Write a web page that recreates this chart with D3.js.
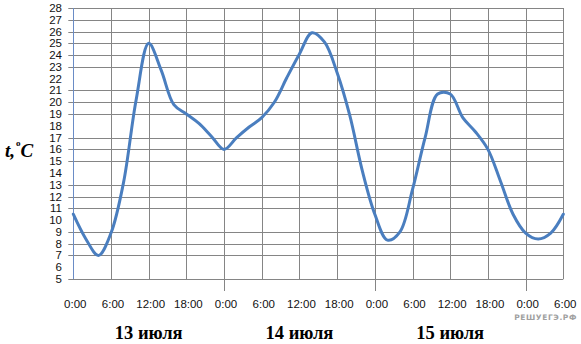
<!DOCTYPE html>
<html>
<head>
<meta charset="utf-8">
<script src="https://cdn.jsdelivr.net/npm/d3@7"></script>
<style>
	body { margin: 0; background: #fff; }
	svg { display: block; }
</style>
</head>
<body>
<div id="chart"></div>
<script>
let hours = d3.range(0, 79, 2);
let temps = [
	10.5, 8.4, 7.0, 8.9, 13.2, 20.2, 25.0, 22.7, 19.8, 19.0, 18.2, 17.1,
	16.0, 17.0, 17.9, 18.7, 20.0, 22.1, 24.1, 25.9, 25.1, 22.5, 18.9, 14.2,
	10.5, 8.3, 9.0, 12.6, 17.0, 20.7, 20.7, 18.7, 17.5, 16.0, 13.3, 10.5,
	8.9, 8.4, 8.9, 10.5
];

let timeTicks = d3.range(0, 79, 6);
let timeLabels = ["0:00", "6:00", "12:00", "18:00", "0:00", "6:00", "12:00", "18:00", "0:00", "6:00", "12:00", "18:00", "0:00", "6:00"];
let dayTicks = [24, 48, 72];
let dayNames = ["13 июля", "14 июля", "15 июля"];
let dayCenters = [12, 36, 60];
let tempTicks = d3.range(5, 29);
// the reference shows no grid line at these values
let skippedGrid = [6, 10, 14, 18, 22];

let chartW = 581, chartH = 344;
let plotLeft = 73.3, plotRight = 563.3, plotTop = 8, plotBottom = 279;

let svg = d3.select("#chart")
	.append("svg")
	.attr("width", chartW)
	.attr("height", chartH);

let x = d3.scaleLinear().domain([0, 78]).range([plotLeft, plotRight]);
let y = d3.scaleLinear().domain([5, 28]).range([plotBottom, plotTop]);

let gridColor = "#858585";

// horizontal grid with small ticks to the left of the axis
svg.append("g")
	.selectAll("line")
	.data(tempTicks.filter((d) => skippedGrid.indexOf(d) < 0))
	.enter().append("line")
	.attr("x1", plotLeft - 5)
	.attr("x2", plotRight)
	.attr("y1", (d) => Math.round(y(d)) + 0.5)
	.attr("y2", (d) => Math.round(y(d)) + 0.5)
	.attr("stroke", gridColor)
	.attr("stroke-width", 1);

// vertical grid
svg.append("g")
	.selectAll("line")
	.data(timeTicks.slice(1))
	.enter().append("line")
	.attr("x1", (d) => Math.round(x(d)) + 0.5)
	.attr("x2", (d) => Math.round(x(d)) + 0.5)
	.attr("y1", plotTop)
	.attr("y2", (d) => dayTicks.indexOf(d) >= 0 ? plotBottom + 12 : plotBottom)
	.attr("stroke", gridColor)
	.attr("stroke-width", 1);

// value axis line
svg.append("line")
	.attr("x1", Math.round(plotLeft) + 0.5)
	.attr("x2", Math.round(plotLeft) + 0.5)
	.attr("y1", plotTop)
	.attr("y2", plotBottom)
	.attr("stroke", "#6a8cc6")
	.attr("stroke-width", 1);

// y labels
svg.append("g")
	.selectAll("text")
	.data(tempTicks)
	.enter().append("text")
	.attr("x", 62)
	.attr("y", (d) => y(d) + 4)
	.attr("text-anchor", "end")
	.attr("font-family", "Liberation Sans, Arial, sans-serif")
	.attr("font-size", "11.5px")
	.attr("fill", "#111")
	.text((d) => d);

// x labels
svg.append("g")
	.selectAll("text")
	.data(timeTicks)
	.enter().append("text")
	.attr("x", (d) => x(d) + 2)
	.attr("y", 307.5)
	.attr("text-anchor", "middle")
	.attr("font-family", "Liberation Sans, Arial, sans-serif")
	.attr("font-size", "11.5px")
	.attr("fill", "#111")
	.text((d, i) => timeLabels[i]);

// day names
svg.append("g")
	.selectAll("text")
	.data(dayNames)
	.enter().append("text")
	.attr("x", (d, i) => x(dayCenters[i]))
	.attr("y", 339)
	.attr("text-anchor", "middle")
	.attr("font-family", "Liberation Serif, Times New Roman, serif")
	.attr("font-weight", "bold")
	.attr("font-size", "18.5px")
	.attr("fill", "#000")
	.text((d) => d);

// axis title t,°C (small "o" sits up by the C)
let title = svg.append("text")
	.attr("x", 5)
	.attr("y", 157)
	.attr("font-family", "Liberation Serif, Times New Roman, serif")
	.attr("font-weight", "bold")
	.attr("font-style", "italic")
	.attr("font-size", "19px")
	.attr("fill", "#000");
title.append("tspan").text("t,");
title.append("tspan")
	.attr("dx", 1)
	.attr("dy", -11)
	.attr("font-size", "9px")
	.attr("font-style", "normal")
	.text("o");
title.append("tspan")
	.attr("dx", 0)
	.attr("dy", 11)
	.text("C");

// temperature curve
let line = d3.line()
	.x((d, i) => x(hours[i]))
	.y((d) => y(d))
	.curve(d3.curveCatmullRom.alpha(0.5));

svg.append("path")
	.datum(temps)
	.attr("d", line)
	.attr("fill", "none")
	.attr("stroke", "#4a7ebf")
	.attr("stroke-width", 3)
	.attr("stroke-linejoin", "round")
	.attr("stroke-linecap", "round");

// watermark
svg.append("text")
	.attr("x", 577)
	.attr("y", 320)
	.attr("text-anchor", "end")
	.attr("font-family", "DejaVu Sans, sans-serif")
	.attr("font-weight", "bold")
	.attr("font-size", "7.5px")
	.attr("letter-spacing", "0.6px")
	.attr("fill", "#a0a0a0")
	.text("РЕШУЕГЭ.РФ");
</script>
</body>
</html>
